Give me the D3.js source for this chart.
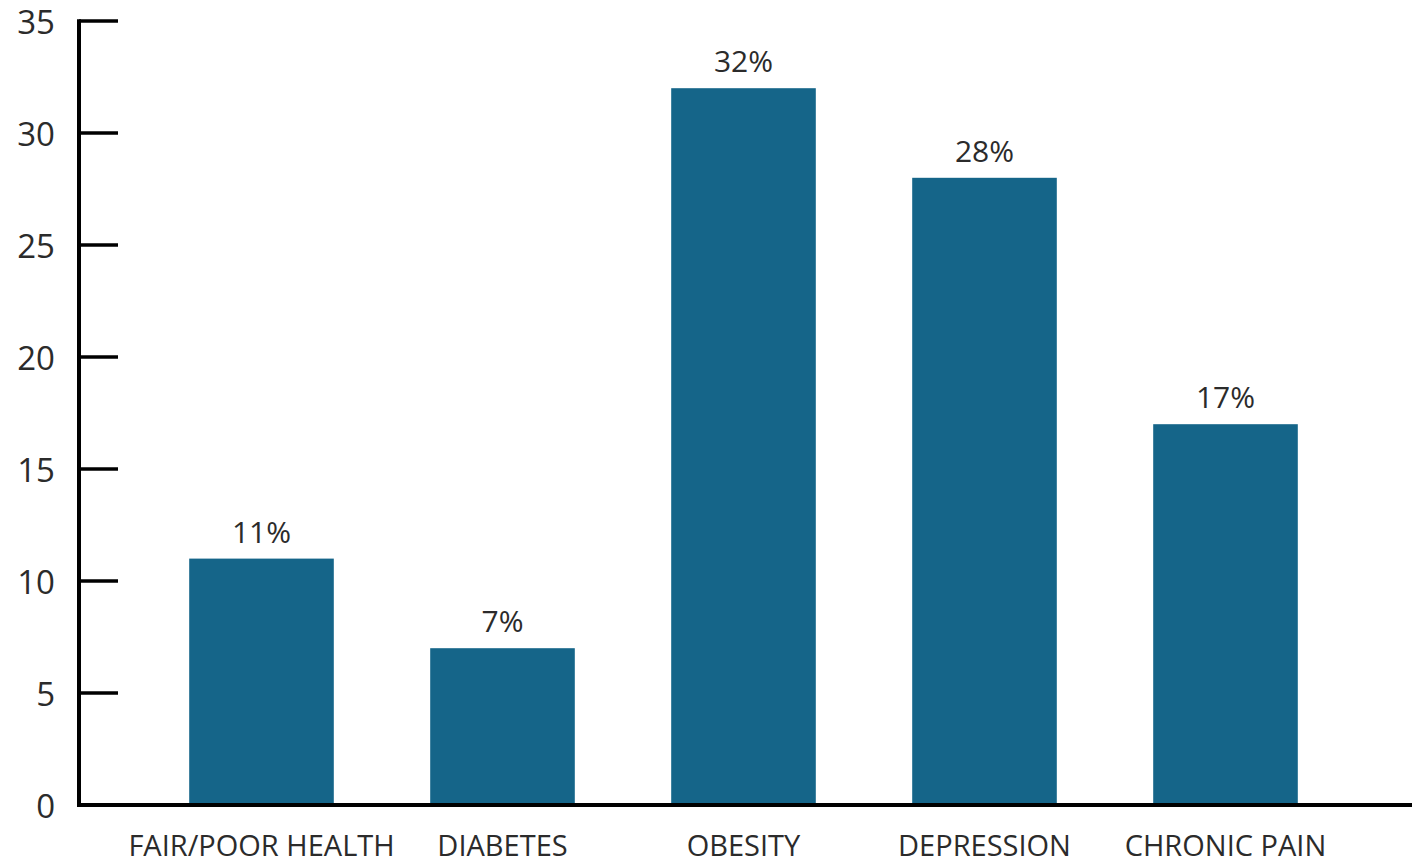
<!DOCTYPE html>
<html>
<head>
<meta charset="utf-8">
<script src="https://cdn.jsdelivr.net/npm/d3@7"></script>
<style>
  html, body { margin: 0; padding: 0; background: #fff; }
  svg { display: block; }
  text { font-family: "Open Sans", "Lato", sans-serif; fill: #2b2b2b; }
</style>
</head>
<body>
<svg id="chart" width="1412" height="864"></svg>
<script>
// Share of respondents reporting each condition (%)
const categories = ["FAIR/POOR HEALTH", "DIABETES", "OBESITY", "DEPRESSION", "CHRONIC PAIN"];
const values = [11, 7, 32, 28, 17];
const yTicks = [0, 5, 10, 15, 20, 25, 30, 35];

const svg = d3.select("#chart");
const barColor = "#156589";

const x = d3.scaleBand()
  .domain(categories)
  .range([141, 1346])
  .paddingInner(0.4)
  .paddingOuter(0.2);

const y = d3.scaleLinear()
  .domain([0, 35])
  .range([805, 21]);

// Bars
svg.append("g")
  .selectAll("rect")
  .data(values)
  .join("rect")
  .attr("x", (d, i) => x(categories[i]))
  .attr("y", d => y(d))
  .attr("width", x.bandwidth())
  .attr("height", d => y(0) - y(d))
  .attr("fill", barColor);

// Value labels
svg.append("g")
  .selectAll("text")
  .data(values)
  .join("text")
  .attr("x", (d, i) => x(categories[i]) + x.bandwidth() / 2)
  .attr("y", d => y(d) - 16)
  .attr("text-anchor", "middle")
  .attr("font-size", 30)
  .text(d => d + "%");

// Y axis labels
const yAxis = d3.axisLeft(y)
  .tickValues(yTicks)
  .tickSize(0)
  .tickPadding(24);

const gy = svg.append("g")
  .attr("transform", "translate(79,0)")
  .call(yAxis);
gy.select(".domain").remove();
gy.selectAll(".tick text")
  .attr("font-size", 33)
  .attr("dy", "0.38em")
  .style("font-family", "'Open Sans', sans-serif")
  .attr("fill", "#2b2b2b");

// Tick marks pointing into the plot (none at the baseline)
svg.append("g")
  .selectAll("line")
  .data(yTicks.filter(t => t > 0))
  .join("line")
  .attr("x1", 79)
  .attr("x2", 118)
  .attr("y1", d => y(d))
  .attr("y2", d => y(d))
  .attr("stroke", "#000")
  .attr("stroke-width", 3.5);

// Vertical axis line
svg.append("line")
  .attr("x1", 79).attr("x2", 79)
  .attr("y1", y(35) - 1.75).attr("y2", y(0) + 2)
  .attr("stroke", "#000")
  .attr("stroke-width", 4);

// Baseline
svg.append("line")
  .attr("x1", 77).attr("x2", 1412)
  .attr("y1", y(0)).attr("y2", y(0))
  .attr("stroke", "#000")
  .attr("stroke-width", 4);

// Category labels
const xAxis = d3.axisBottom(x).tickSize(0).tickPadding(0);
const gx = svg.append("g")
  .attr("transform", "translate(0,856)")
  .call(xAxis);
gx.select(".domain").remove();
gx.selectAll(".tick text")
  .attr("y", 0)
  .attr("dy", 0)
  .attr("font-size", 29)
  .style("font-family", "'Open Sans', sans-serif")
  .attr("fill", "#2b2b2b");
</script>
</body>
</html>
